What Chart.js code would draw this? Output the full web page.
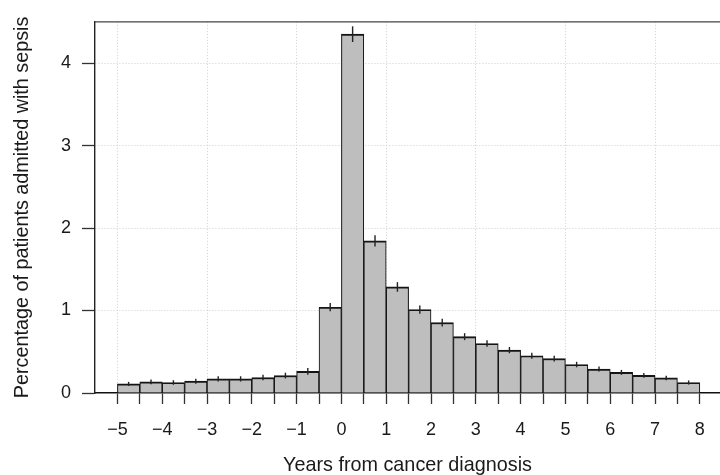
<!DOCTYPE html>
<html lang="en">
<head>
<meta charset="UTF-8">
<title>Sepsis admissions by years from cancer diagnosis</title>
<script src="https://cdn.jsdelivr.net/npm/chart.js"></script>
<style>
    body { margin: 0; background: #fff; }
    .wrap { width: 720px; height: 475px; }
</style>
</head>
<body>
<div class="wrap"><canvas id="chart" width="720" height="475"></canvas></div>
<script>
// half-year bins, left edge of each bin (years from diagnosis)
const binStart = [-5, -4.5, -4, -3.5, -3, -2.5, -2, -1.5, -1, -0.5, 0, 0.5, 1, 1.5,
                  2, 2.5, 3, 3.5, 4, 4.5, 5, 5.5, 6, 6.5, 7, 7.5];
// percentage admitted with sepsis in each bin
const pct = [0.11, 0.135, 0.127, 0.143, 0.171, 0.171, 0.187, 0.211, 0.262, 1.04,
             4.35, 1.845, 1.286, 1.012, 0.853, 0.683, 0.6, 0.52, 0.452, 0.417,
             0.345, 0.29, 0.25, 0.214, 0.183, 0.127];
// half length of the error bar
const err = [0.025, 0.028, 0.028, 0.03, 0.032, 0.032, 0.033, 0.035, 0.04, 0.05,
             0.095, 0.068, 0.058, 0.05, 0.047, 0.042, 0.04, 0.038, 0.036, 0.035,
             0.033, 0.03, 0.03, 0.028, 0.027, 0.025];
const binWidth = 0.5;

const xTicks = [-5, -4.5, -4, -3.5, -3, -2.5, -2, -1.5, -1, -0.5, 0, 0.5, 1, 1.5,
                2, 2.5, 3, 3.5, 4, 4.5, 5, 5.5, 6, 6.5, 7, 7.5, 8];
const xTickLabels = ['\u22125', '', '\u22124', '', '\u22123', '', '\u22122', '', '\u22121', '',
                     '0', '', '1', '', '2', '', '3', '', '4', '', '5', '', '6', '', '7', '', '8'];
const xGrid = [-5, -3, -1, 1, 3, 5, 7];
const yTicks = [0, 1, 2, 3, 4];
const yGrid = [1, 2, 3, 4];

const points = binStart.map((s, i) => ({ x: s + binWidth / 2, y: pct[i] }));

// error bars + top frame line
const extras = {
    id: 'extras',
    afterDatasetsDraw(chart) {
        const { ctx, scales: { x, y }, chartArea } = chart;
        ctx.save();
        ctx.strokeStyle = '#222';
        ctx.lineWidth = 1.4;
        points.forEach((p, i) => {
            const px = x.getPixelForValue(p.x);
            ctx.beginPath();
            ctx.moveTo(px, y.getPixelForValue(p.y - err[i]));
            ctx.lineTo(px, y.getPixelForValue(p.y + err[i]));
            ctx.stroke();
        });
        ctx.strokeStyle = '#444';
        ctx.lineWidth = 1.3;
        ctx.beginPath();
        ctx.moveTo(chartArea.left, chartArea.top);
        ctx.lineTo(chartArea.right, chartArea.top);
        ctx.stroke();
        ctx.restore();
    }
};

const font = "'Liberation Sans', Arial, Helvetica, sans-serif";

new Chart(document.getElementById('chart'), {
    type: 'bar',
    data: {
        datasets: [{
            data: points,
            backgroundColor: '#bebebe',
            borderColor: '#151515',
            borderWidth: { top: 1.9, left: 1.1, right: 1.1, bottom: 0 },
            borderSkipped: false,
            barPercentage: 1,
            categoryPercentage: 1
        }]
    },
    options: {
        responsive: false,
        animation: false,
        layout: { padding: { top: 15, right: 0, left: 0, bottom: 0 } },
        plugins: { legend: { display: false }, tooltip: { enabled: false } },
        scales: {
            x: {
                type: 'linear',
                offset: false,
                min: -5.5,
                max: 8.45,
                afterBuildTicks: s => { s.ticks = xTicks.map(v => ({ value: v })); },
                afterFit: s => { s.height = 82; },
                ticks: {
                    autoSkip: false,
                    maxRotation: 0,
                    padding: 15,
                    color: '#1a1a1a',
                    font: { family: font, size: 18 },
                    callback: (v, i) => xTickLabels[i]
                },
                grid: {
                    offset: false,
                    color: c => xGrid.includes(c.tick && c.tick.value) ? '#cfcfcf' : 'rgba(0,0,0,0)',
                    lineWidth: 1,
                    tickLength: 11,
                    tickColor: '#333',
                    tickWidth: 1.3
                },
                border: { color: '#111', width: 1.6, dash: [1, 2] },
                title: {
                    display: true,
                    text: 'Years from cancer diagnosis',
                    color: '#1a1a1a',
                    font: { family: font, size: 19.8, lineHeight: 1 },
                    padding: { top: 0, bottom: 0 }
                }
            },
            y: {
                min: 0,
                max: 4.5,
                afterBuildTicks: s => { s.ticks = yTicks.map(v => ({ value: v })); },
                afterFit: s => { s.width = 95; },
                ticks: {
                    padding: 11,
                    color: '#1a1a1a',
                    font: { family: font, size: 18 },
                    callback: v => String(v)
                },
                grid: {
                    color: c => yGrid.includes(c.tick && c.tick.value) ? '#cfcfcf' : 'rgba(0,0,0,0)',
                    lineWidth: 1,
                    tickLength: 13,
                    tickColor: '#333',
                    tickWidth: 1.3
                },
                border: { color: '#222', width: 1.4, dash: [1, 2] },
                title: {
                    display: true,
                    text: 'Percentage of patients admitted with sepsis',
                    color: '#1a1a1a',
                    font: { family: font, size: 19.8, lineHeight: 1 },
                    padding: { top: 13, bottom: 0 }
                }
            }
        }
    },
    plugins: [extras]
});
</script>
</body>
</html>
